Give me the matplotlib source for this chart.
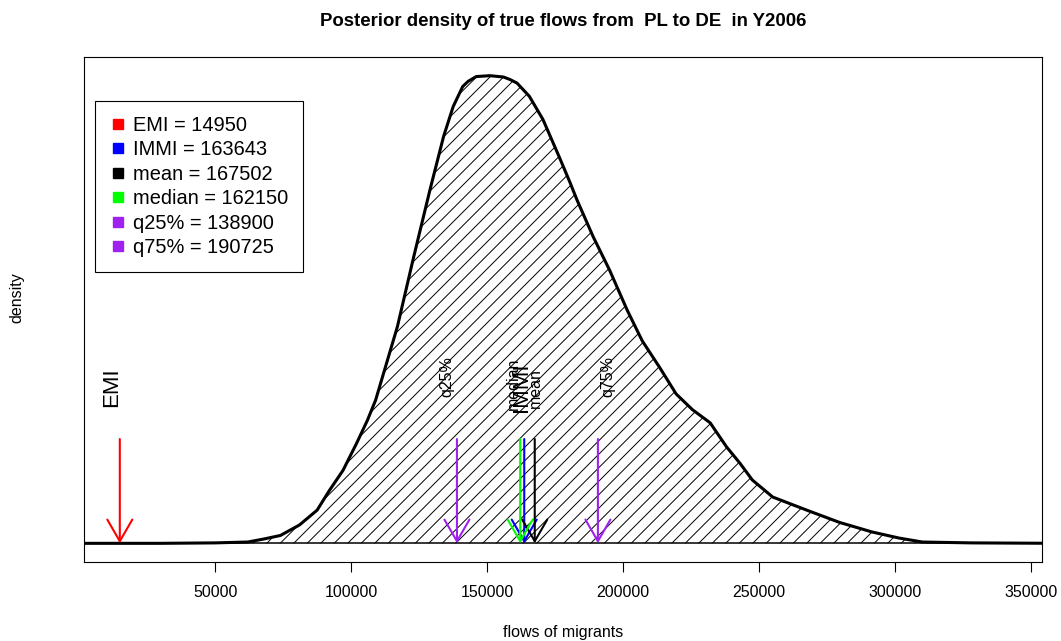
import numpy as np
import matplotlib.pyplot as plt
from matplotlib.lines import Line2D
from matplotlib.collections import LineCollection
from matplotlib.transforms import IdentityTransform

plt.rcParams['font.family'] = ['Liberation Sans', 'DejaVu Sans']

# posterior density (density in units of 1e-6)
flows = [0, 30000, 50000, 62000, 68000, 74000, 81000, 87500, 92000, 97000, 102000,
         106000, 109000, 117000, 123000, 129000, 134000, 137500, 141000, 143000,
         146000, 151000, 156000, 158500, 161000, 165500, 170500, 176500, 180500,
         183000, 189000, 195000, 201500, 207000, 213500, 219500, 225500, 232000,
         238000, 243000, 247500, 255000, 267500, 279500, 291500, 301500, 310000,
         328000, 360000]
density = [0.0, 0.0, 0.01, 0.03, 0.10, 0.18, 0.42, 0.76, 1.21, 1.67, 2.29,
           2.82, 3.28, 4.96, 6.56, 8.10, 9.32, 10.0, 10.46, 10.58,
           10.69, 10.71, 10.68, 10.62, 10.54, 10.24, 9.71, 8.85, 8.26,
           7.87, 7.02, 6.26, 5.34, 4.64, 4.02, 3.42, 3.06, 2.76,
           2.21, 1.83, 1.45, 1.06, 0.76, 0.48, 0.26, 0.12, 0.03,
           0.01, 0.0]

stat_names = ['EMI', 'IMMI', 'mean', 'median', 'q25%', 'q75%']
stat_values = [14950, 163643, 167502, 162150, 138900, 190725]
stat_colors = ['#FF0000', '#0000FF', '#000000', '#00FF00', '#A020F0', '#A020F0']

x = np.array(flows)
y = np.array(density) * 1e-6
peak = y.max()

fig = plt.figure(figsize=(10.61, 6.41), dpi=100)
ax = fig.add_axes([0.0792, 0.1232, 0.9029, 0.7879])
ax.set_xlim(1800, 354000)
ax.set_ylim(-0.04 * peak, 1.04 * peak)

# shaded area: 45 degree hatch lines (on screen), clipped to the area under the curve
poly = ax.fill_between(x, 0, y, facecolor='none', linewidth=0)
W, H = fig.bbox.width, fig.bbox.height
segs = [[(c, 0), (c + H, H)] for c in np.arange(-H, W, 13.5)]
hatch = LineCollection(segs, colors='black', linewidths=0.7, transform=IdentityTransform())
ax.add_collection(hatch, autolim=False)
hatch.set_clip_path(poly.get_paths()[0], ax.transData)

ax.plot(x, y, color='black', lw=2.2, solid_capstyle='butt', solid_joinstyle='round')
ax.axhline(0, color='black', lw=1.1)

# arrows and rotated labels
arrow_top = 0.223 * peak
label_y = 0.34 * peak
label_size = [16, 16, 11.5, 11.5, 11.5, 11.5]
label_off = [(-6.1, -2.2), (-1.9, -2.2), (0.5, -2.9), (-5.0, 0.7), (-7.0, 5.8), (7.2, 5.8)]
for i in range(len(stat_names)):
    ax.annotate('', xy=(stat_values[i], 0), xytext=(stat_values[i], arrow_top),
                arrowprops=dict(arrowstyle='->,head_length=15.6,head_width=9',
                                color=stat_colors[i], lw=1.5, shrinkA=0, shrinkB=0,
                                mutation_scale=1))
    ax.annotate(stat_names[i], xy=(stat_values[i], label_y), xytext=label_off[i],
                textcoords='offset points', rotation=90, ha='center', va='center',
                fontsize=label_size[i])

ax.set_xticks([50000, 100000, 150000, 200000, 250000, 300000, 350000])
ax.set_xticklabels(['50000', '100000', '150000', '200000', '250000', '300000', '350000'])
ax.set_yticks([])
ax.tick_params(axis='x', length=7.2, width=0.8, pad=9.5, labelsize=11.5)
for s in ax.spines.values():
    s.set_linewidth(0.8)

ax.set_xlabel('flows of migrants', fontsize=11.5, labelpad=18)
ax.set_ylabel('density', fontsize=11.5)
ax.yaxis.set_label_coords(-0.0626, 0.523)
ax.set_title('Posterior density of true flows from  PL to DE  in Y2006',
             fontsize=13.4, fontweight='bold', pad=22.5)

handles = [Line2D([], [], marker='s', linestyle='none', markersize=7.2,
                  markerfacecolor=c, markeredgecolor=c) for c in stat_colors]
labels = ['%s = %d' % (n, v) for n, v in zip(stat_names, stat_values)]
leg = ax.legend(handles, labels, loc='upper left', bbox_to_anchor=(0.0115, 0.9129),
                borderaxespad=0, fontsize=14.4, borderpad=0.75, handlelength=0.8,
                handletextpad=0.35, labelspacing=0.27, fancybox=False,
                edgecolor='black', framealpha=1)
leg.get_frame().set_linewidth(0.8)

fig.savefig('out.png', dpi=100)
